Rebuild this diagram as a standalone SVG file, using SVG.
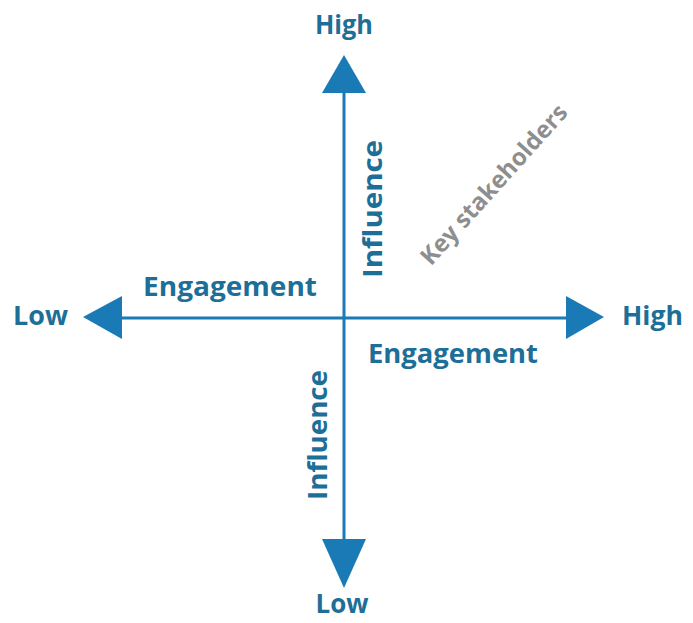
<svg xmlns="http://www.w3.org/2000/svg" width="693" height="623" viewBox="0 0 693 623">
<style>
.lbl{font-family:"Open Sans","Liberation Sans",sans-serif;font-weight:700;fill:#1d6f98;font-size:27px}
.key{font-family:"Open Sans","Liberation Sans",sans-serif;font-weight:700;fill:#8e8e8e;font-size:24px}
.axis{stroke:#1a7ab6;stroke-width:3;fill:none}
.head{fill:#1a7ab6}
</style>
<rect width="693" height="623" fill="#ffffff"/>
<g id="connectors">
<line class="axis" x1="344" y1="90" x2="344" y2="541"/>
<line class="axis" x1="120" y1="318" x2="568" y2="318"/>
<polygon class="head" points="344,55 322,93 366,93"/>
<polygon class="head" points="344,588 322,539 366,539"/>
<polygon class="head" points="83,317 122,296 122,339"/>
<polygon class="head" points="604,317 566,296 566,339"/>
</g>
<g id="high-top"><text class="lbl" x="344" y="34" text-anchor="middle" textLength="58" lengthAdjust="spacingAndGlyphs">High</text></g>
<g id="low-left"><text class="lbl" x="13" y="325" textLength="55" lengthAdjust="spacingAndGlyphs">Low</text></g>
<g id="high-right"><text class="lbl" x="622" y="325" textLength="61" lengthAdjust="spacingAndGlyphs">High</text></g>
<g id="low-bottom"><text class="lbl" x="342" y="613" text-anchor="middle" textLength="53" lengthAdjust="spacingAndGlyphs">Low</text></g>
<g id="engagement-left"><text class="lbl" x="143" y="296" textLength="174" lengthAdjust="spacingAndGlyphs">Engagement</text></g>
<g id="engagement-right"><text class="lbl" x="368" y="363" textLength="170" lengthAdjust="spacingAndGlyphs">Engagement</text></g>
<g id="influence-top"><text class="lbl" transform="translate(382,209) rotate(-90)" x="0" y="0" text-anchor="middle" textLength="138" lengthAdjust="spacingAndGlyphs">Influence</text></g>
<g id="influence-bottom"><text class="lbl" transform="translate(327,435) rotate(-90)" x="0" y="0" text-anchor="middle" textLength="130" lengthAdjust="spacingAndGlyphs">Influence</text></g>
<g id="key-stakeholders"><text class="key" transform="translate(500,190) rotate(-48)" x="0" y="0" text-anchor="middle">Key stakeholders</text></g>
</svg>
